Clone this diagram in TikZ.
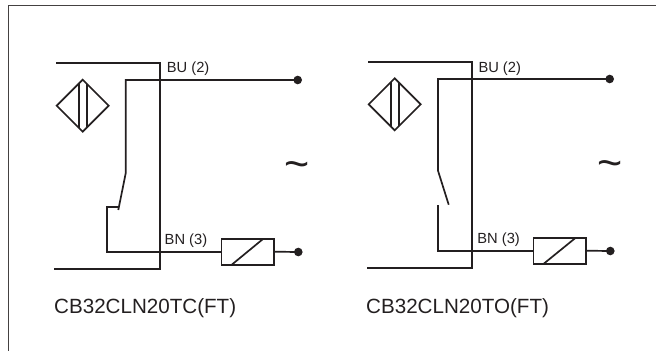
\documentclass[tikz,border=0pt]{standalone}
\usepackage{fontspec}
\setmainfont{Liberation Sans}
\definecolor{ink}{HTML}{231F20}
\usetikzlibrary{shapes.geometric}
\tikzset{
  wire/.style={draw=ink,line width=1.7pt,line join=miter},
  coilbox/.style={draw=ink,line width=1.7pt,rectangle,minimum width=52.5pt,minimum height=26pt,inner sep=0pt,outer sep=0pt},
  term/.style={circle,fill=ink,minimum size=8.6pt,inner sep=0pt,outer sep=0pt},
  pin/.style={anchor=base west,inner sep=0pt,text=ink,font=\fontsize{14.7}{16}\selectfont},
  caption/.style={anchor=base west,inner sep=0pt,text=ink,font=\fontsize{20.6}{22}\selectfont},
  ac/.style={inner sep=0pt,text=ink,font=\fontsize{43}{45}\selectfont},
  sensor/.style={draw=ink,line width=1.7pt,diamond,minimum size=52pt,inner sep=0pt,outer sep=0pt}
}
\begin{document}
\begin{tikzpicture}[x=1pt,y=-1pt]
\useasboundingbox (0,0) rectangle (656,351);
% frame
\coordinate (fa) at (656,5.5);
\coordinate (fb) at (8.5,5.5);
\coordinate (fc) at (8.5,351);
\draw[draw=ink!85,line width=1.3pt] (fa) -- (fb) -- (fc);

% left circuit
\coordinate (la) at (56,62.7);
\coordinate (lb) at (160,62.7);
\coordinate (lc) at (160,268.7);
\coordinate (ld) at (54.3,268.7);
\draw[wire] (la) -- (lb) -- (lc) -- (ld);
\node[sensor] (ls) at (82.7,105.7) {};
\draw[wire] ([xshift=-4pt,yshift=-22pt]ls.center) -- ([xshift=-4pt,yshift=22pt]ls.center);
\draw[wire] ([xshift=4.6pt,yshift=-21.4pt]ls.center) -- ([xshift=4.6pt,yshift=21.4pt]ls.center);
\node[term] (lt1) at (297.7,80) {};
\node[term] (lt2) at (298.3,252) {};
\node[coilbox] (lcoil) at (247.6,251.7) {};
\coordinate (lw1) at (125.7,80);
\coordinate (lw2) at (125.7,173.3);
\coordinate (lw3) at (118.3,210);
\coordinate (lw4) at (118.3,206.7);
\coordinate (lw5) at (107.3,206.7);
\coordinate (lw6) at (107.3,251.7);
\draw[wire] (lt1.center) -- (lw1) -- (lw2) -- (lw3);
\draw[wire] (lw4) -- (lw5) -- (lw6) -- (lcoil.west);
\draw[wire] (lcoil.east) -- (lt2.center);
\draw[wire] (lcoil.south west) ++(10.4,0) -- ++(31.6,-26);
\node[pin] (lbu) at (166.7,72.7) {BU (2)};
\node[pin] (lbn) at (164.5,244) {BN (3)};
\node[ac] (lac) at (297.5,170) {\char"7E};
\node[caption] (lcap) at (54,313.3) {CB32CLN20TC(FT)};

% right circuit
\coordinate (ra) at (368,61.7);
\coordinate (rb) at (472.3,61.7);
\coordinate (rc) at (472.3,267.7);
\coordinate (rd) at (366.7,267.7);
\draw[wire] (ra) -- (rb) -- (rc) -- (rd);
\node[sensor] (rs) at (394.7,104.3) {};
\draw[wire] ([xshift=-4pt,yshift=-22pt]rs.center) -- ([xshift=-4pt,yshift=22pt]rs.center);
\draw[wire] ([xshift=4.6pt,yshift=-21.4pt]rs.center) -- ([xshift=4.6pt,yshift=21.4pt]rs.center);
\node[term] (rt1) at (609.7,79) {};
\node[term] (rt2) at (610.3,251) {};
\node[coilbox] (rcoil) at (559.6,250.7) {};
\coordinate (rw1) at (438,79);
\coordinate (rw2) at (438,170.7);
\coordinate (rw3) at (448.7,204.7);
\coordinate (rw4) at (438,205.3);
\coordinate (rw5) at (438,250.7);
\draw[wire] (rt1.center) -- (rw1) -- (rw2) -- (rw3);
\draw[wire] (rw4) -- (rw5) -- (rcoil.west);
\draw[wire] (rcoil.east) -- (rt2.center);
\draw[wire] (rcoil.south west) ++(10.4,0) -- ++(32,-26);
\node[pin] (rbu) at (478.3,72) {BU (2)};
\node[pin] (rbn) at (477.2,243.4) {BN (3)};
\node[ac] (rac) at (610,169) {\char"7E};
\node[caption] (rcap) at (366,313.3) {CB32CLN20TO(FT)};
\end{tikzpicture}
\end{document}
